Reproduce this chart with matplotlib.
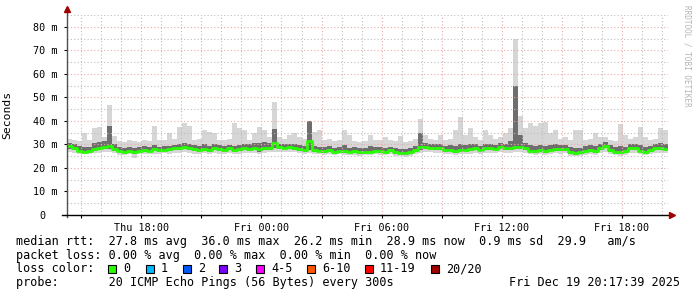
"""
SmokePing style latency graph (median rtt + smoke), 30 hours
"""

import numpy as np
import matplotlib
matplotlib.use("Agg")
import matplotlib.pyplot as plt
from matplotlib.patches import Rectangle
from matplotlib.lines import Line2D

##############################################################################
# Data (ms), one sample every 15 minutes, starting Thu 14:17:39
t_start = 14 + 17 / 60 + 39 / 3600   # hours since Thu 00:00
step_h = 0.25

rtt_med = [29.2, 28.6, 27.2, 27.0, 27.4, 28.0, 28.4, 28.8, 29.2, 28.0,
           27.2, 26.9, 27.3, 26.8, 27.4, 27.8, 27.3, 28.0, 27.6, 27.8,
           28.0, 28.3, 28.6, 28.8, 28.4, 28.0, 27.8, 28.2, 27.6, 28.4,
           28.0, 27.8, 28.3, 27.6, 28.0, 28.4, 28.2, 28.6, 27.9, 28.4,
           28.6, 30.8, 28.8, 28.6, 28.8, 28.5, 28.0, 27.7, 31.5, 27.6,
           27.4, 27.2, 27.6, 27.0, 27.4, 27.2, 26.9, 27.1, 26.8, 27.0,
           26.9, 27.4, 27.2, 27.0, 27.5, 26.8, 26.5, 26.3, 26.8, 27.5,
           29.0, 28.8, 28.6, 28.4, 28.5, 27.6, 27.8, 27.2, 27.6, 27.8,
           28.0, 28.3, 27.8, 28.4, 28.6, 28.2, 28.8, 28.4, 28.6, 28.8,
           29.0, 28.4, 27.4, 27.2, 27.5, 27.1, 27.8, 28.2, 27.9, 28.1,
           26.8, 26.4, 26.6, 27.4, 27.6, 27.2, 28.6, 29.2, 27.6, 27.0,
           26.9, 27.2, 28.4, 28.6, 27.4, 27.0, 27.6, 28.4, 28.6, 28.2]

rtt_min = [26.8, 26.5, 26.0, 25.8, 26.0, 26.4, 26.2, 26.6, 26.8, 26.2,
           25.6, 25.4, 25.8, 24.2, 25.8, 26.0, 25.8, 26.0, 25.9, 26.2,
           26.1, 26.4, 26.5, 26.6, 26.3, 26.0, 26.0, 26.2, 25.8, 26.2,
           26.0, 25.9, 26.2, 25.8, 26.0, 26.3, 26.2, 26.5, 25.9, 26.2,
           26.6, 27.0, 26.8, 26.7, 26.8, 26.6, 26.2, 26.0, 26.4, 25.9,
           25.8, 25.7, 26.0, 25.5, 25.8, 25.6, 25.4, 25.6, 25.3, 25.5,
           25.4, 25.8, 25.6, 25.5, 25.9, 25.2, 25.0, 24.8, 25.2, 25.8,
           26.5, 26.6, 26.6, 26.4, 26.5, 25.9, 26.0, 25.6, 25.9, 26.0,
           26.1, 26.4, 26.0, 26.4, 26.5, 26.3, 26.6, 26.4, 26.5, 26.6,
           26.8, 26.4, 25.8, 25.6, 25.9, 25.5, 26.0, 26.2, 26.0, 26.2,
           25.3, 24.9, 25.0, 25.7, 25.9, 25.6, 26.4, 26.8, 25.9, 25.4,
           25.3, 25.6, 26.3, 26.5, 25.8, 25.4, 25.9, 26.3, 26.5, 26.3]

rtt_q1 = [28.0, 27.6, 26.6, 26.5, 26.8, 27.3, 27.6, 27.9, 28.2, 27.2,
          26.6, 26.3, 26.7, 26.0, 26.8, 27.0, 26.6, 27.2, 26.9, 27.1,
          27.3, 27.6, 27.8, 28.0, 27.6, 27.3, 27.0, 27.4, 26.9, 27.6,
          27.2, 27.0, 27.5, 26.9, 27.2, 27.6, 27.4, 27.8, 27.0, 27.5,
          27.8, 28.5, 28.0, 27.9, 28.0, 27.8, 27.2, 27.0, 27.6, 26.9,
          26.7, 26.5, 26.9, 26.3, 26.7, 26.5, 26.2, 26.4, 26.1, 26.3,
          26.2, 26.7, 26.5, 26.3, 26.8, 26.1, 25.8, 25.6, 26.1, 26.8,
          27.8, 28.0, 27.9, 27.7, 27.8, 26.9, 27.1, 26.5, 26.9, 27.1,
          27.3, 27.6, 27.1, 27.6, 27.8, 27.5, 28.0, 27.6, 27.8, 28.0,
          28.2, 27.6, 26.7, 26.5, 26.8, 26.4, 27.1, 27.4, 27.2, 27.4,
          26.1, 25.7, 25.9, 26.6, 26.9, 26.5, 27.8, 28.3, 26.9, 26.3,
          26.2, 26.5, 27.6, 27.8, 26.7, 26.3, 26.9, 27.6, 27.8, 27.5]

rtt_q3 = [30.6, 30.2, 29.5, 28.8, 29.0, 30.5, 31.0, 31.5, 38.0, 30.0,
          28.8, 28.5, 29.0, 28.4, 28.9, 29.2, 28.8, 29.6, 29.0, 29.3,
          29.5, 29.8, 30.4, 30.8, 30.2, 29.6, 29.4, 30.0, 29.5, 30.3,
          29.8, 29.4, 29.9, 29.4, 29.8, 30.2, 30.0, 30.8, 30.5, 31.0,
          30.6, 36.5, 30.4, 30.0, 30.2, 30.0, 29.6, 29.5, 40.0, 29.2,
          29.0, 28.8, 29.2, 28.6, 29.0, 29.6, 28.6, 28.8, 28.6, 28.7,
          29.2, 29.0, 28.8, 28.7, 29.1, 28.5, 28.2, 28.0, 28.5, 29.4,
          35.0, 30.6, 30.2, 30.0, 30.2, 29.4, 29.6, 29.5, 30.0, 29.6,
          30.2, 30.0, 29.5, 30.2, 30.4, 29.8, 30.5, 30.4, 31.5, 55.0,
          34.0, 30.5, 29.6, 29.4, 29.8, 29.5, 29.6, 30.0, 29.6, 29.8,
          28.8, 28.5, 28.6, 29.5, 29.6, 29.4, 30.4, 31.0, 29.6, 29.0,
          29.2, 29.0, 30.2, 30.4, 29.8, 29.0, 29.4, 30.2, 30.5, 30.0]

rtt_max = [32.5, 31.8, 31.5, 35.0, 32.0, 37.0, 37.5, 33.0, 46.8, 33.5,
           31.5, 31.0, 32.0, 31.5, 31.0, 32.0, 31.5, 38.0, 31.8, 32.0,
           35.0, 32.5, 37.6, 39.0, 38.0, 32.0, 32.5, 36.0, 35.5, 35.0,
           32.0, 31.8, 32.5, 39.0, 37.0, 36.0, 32.0, 35.0, 37.5, 36.0,
           33.0, 48.0, 33.0, 32.5, 34.0, 35.0, 33.0, 32.5, 40.2, 35.5,
           36.0, 32.0, 32.5, 31.5, 32.0, 36.0, 34.0, 31.5, 31.0, 31.5,
           34.0, 31.8, 32.0, 33.0, 32.0, 31.5, 33.5, 31.0, 31.5, 32.5,
           41.0, 34.0, 32.5, 32.0, 34.0, 32.0, 32.5, 36.0, 41.5, 34.0,
           37.0, 33.0, 32.0, 36.0, 34.0, 32.5, 33.0, 35.0, 37.0, 75.0,
           42.0, 37.0, 39.0, 38.0, 39.0, 39.5, 35.0, 36.0, 32.5, 33.0,
           32.0, 36.0, 36.0, 32.0, 32.5, 35.0, 33.0, 33.0, 32.0, 31.5,
           38.8, 34.0, 32.5, 33.0, 37.5, 33.0, 32.0, 32.5, 37.0, 36.0]

y_ticks = [0, 10, 20, 30, 40, 50, 60, 70, 80]
y_labels = ["0  ", "10 m", "20 m", "30 m", "40 m", "50 m", "60 m", "70 m", "80 m"]
x_ticks = [15, 18, 21, 24, 27, 30, 33, 36, 39, 42]
x_labels = ["", "Thu 18:00", "", "Fri 00:00", "", "Fri 06:00", "",
            "Fri 12:00", "", "Fri 18:00"]

loss_names = ["0", "1", "2", "3", "4-5", "6-10", "11-19", "20/20"]
loss_colors = ["#26ff00", "#00b8ff", "#0059ff", "#7e00ff", "#ff00ff",
               "#ff5500", "#ff0000", "#a10000"]

legend_lines = [
    "median rtt:  27.8 ms avg  36.0 ms max  26.2 ms min  28.9 ms now  0.9 ms sd  29.9   am/s",
    "packet loss: 0.00 % avg  0.00 % max  0.00 % min  0.00 % now",
    "loss color:",
    "probe:       20 ICMP Echo Pings (56 Bytes) every 300s",
]
stamp = "Fri Dec 19 20:17:39 2025"

##############################################################################
# Figure setup
W, H = 697, 297
MONO = "DejaVu Sans Mono"
plt.rcParams["font.family"] = MONO

fig = plt.figure(figsize=(W / 100, H / 100), dpi=100)
fig.patch.set_facecolor("white")


def fx(x):
    return x / W


def fy(y):
    return 1 - y / H


ax = fig.add_axes([fx(67), 82 / H, 601 / W, 200 / H])

n = len(rtt_med)
t = t_start + step_h * np.arange(n + 1)


def ext(a):
    a = np.asarray(a)
    return np.append(a, a[-1])


# Smoke
ax.fill_between(t, ext(rtt_min), ext(rtt_max), step="post",
                color="#d6d6d6", lw=0, zorder=1)
ax.fill_between(t, ext(rtt_q1), ext(rtt_q3), step="post",
                color="#6e6e6e", lw=0, zorder=1.2)
# Median
ax.step(t, ext(rtt_med), where="post", color=loss_colors[0], lw=2.0,
        zorder=1.5)

ax.set_xlim(t_start, t_start + step_h * n)
ax.set_ylim(0, 85.1)

# Grid
ax.set_yticks(y_ticks)
ax.set_yticklabels(y_labels)
ax.set_yticks(np.arange(5, 86, 10), minor=True)
ax.set_xticks(x_ticks)
ax.set_xticklabels(x_labels)
ax.set_xticks(np.arange(15, 45, 1), minor=True)

ax.set_axisbelow(False)
ax.grid(which="major", color="#eba9a9", linestyle=(0, (1, 2)), lw=0.8)
ax.grid(which="minor", color="#bdbdbd", linestyle=(0, (1, 2)), lw=0.8)

ax.tick_params(axis="both", which="major", labelsize=7.3, length=2.5,
               width=0.8, color="#000000", pad=3)
ax.tick_params(axis="y", which="major", pad=4)
ax.tick_params(axis="both", which="minor", length=0)

for s in ax.spines.values():
    s.set_visible(False)

# Axis lines with arrows
ax.add_line(Line2D([0, 0], [-0.012, 1.02], transform=ax.transAxes,
                   color="#505050", lw=1, clip_on=False, zorder=3))
ax.add_line(Line2D([-0.009, 1.005], [0, 0], transform=ax.transAxes,
                   color="#000000", lw=1, clip_on=False, zorder=3))
ax.plot([0], [1.028], marker="^", ms=4.5, color="#a00000",
        transform=ax.transAxes, clip_on=False, zorder=4)
ax.plot([1.007], [0], marker=">", ms=4.5, color="#a00000",
        transform=ax.transAxes, clip_on=False, zorder=4)

ax.set_ylabel("Seconds", fontsize=8.2, labelpad=15)

# Watermark
fig.text(fx(687), fy(5), "RRDTOOL / TOBI OETIKER", rotation=270,
         fontsize=5.5, color="#b4b4b4", ha="center", va="top")

##############################################################################
# Legend block
rows_y = [241.5, 255.2, 269, 282.7]
for line, ry in zip(legend_lines, rows_y):
    fig.text(fx(16), fy(ry), line, fontsize=8.5, ha="left", va="center")
fig.text(fx(680), fy(rows_y[3]), stamp, fontsize=8.5, ha="right",
         va="center")

box_x = [108.3, 145.7, 182.7, 219.3, 256, 307.3, 365, 431]
for bx, name, col in zip(box_x, loss_names, loss_colors):
    fig.patches.append(Rectangle((fx(bx), fy(273)), 8 / W, 8 / H,
                                 transform=fig.transFigure, facecolor=col,
                                 edgecolor="black", lw=0.8))
    fig.text(fx(bx + 15), fy(rows_y[2]), name, fontsize=8.5, ha="left",
             va="center")

fig.savefig("out.png", dpi=100)
